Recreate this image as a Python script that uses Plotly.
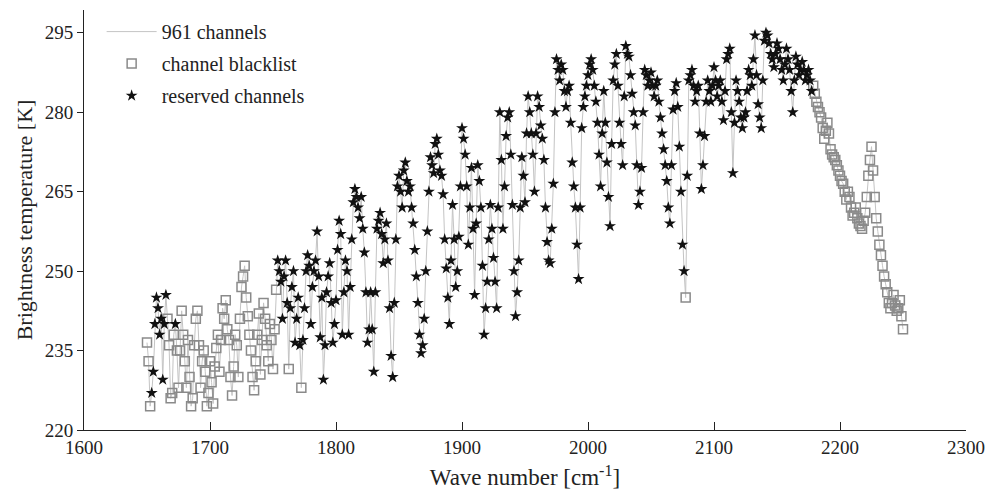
import plotly.graph_objects as go

# wave numbers of the sampled channels (cm^-1), 1.25 cm^-1 step from 1650 to 2250
wave = [1650 + 1.25 * i for i in range(481)]

# brightness temperature [K], blocks of 10 cm^-1 (8 values each)
tb = [
    236.5, 233, 224.5, 227, 231, 240, 245, 243,          # 1650
    238, 241, 229.5, 240, 245.5, 241, 236, 226,          # 1660
    227, 238, 240, 235, 228, 235, 242.5, 238,            # 1670
    233, 228, 237, 230, 224.5, 226, 236, 241,            # 1680
    242.5, 236, 228, 233, 235, 231, 224.5, 227,          # 1690
    233, 229, 225, 232, 235.5, 238, 231, 237,            # 1700
    243, 241, 244.5, 239, 237, 230, 226.5, 232,          # 1710
    238, 236, 230, 241, 247, 249, 251, 245,              # 1720
    241.5, 238, 235, 230, 227.5, 233, 238, 242,          # 1730
    230.5, 237, 244, 241, 236, 233, 240, 237,            # 1740
    231.5, 239, 246.5, 252, 250, 248, 241, 249,          # 1750
    252, 244, 231.5, 243, 247, 250, 236.5, 241,          # 1760
    245, 236, 228, 237, 243, 250, 253, 251,              # 1770
    240, 247, 250, 252, 257.5, 249, 237.5, 245,          # 1780
    229.5, 236, 246, 249, 251.5, 244, 236.5, 240,        # 1790
    244.5, 254, 259.5, 257, 238, 246, 252, 250,          # 1800
    238, 247, 256, 263, 265.5, 264, 262, 260,            # 1810
    264, 258, 253.5, 246, 236.5, 239, 246, 239,          # 1820
    231, 246, 258, 259.5, 261, 257, 251.5, 256,          # 1830
    259, 252, 243, 234, 230, 244, 256, 266,              # 1840
    268, 265, 262, 269, 270.5, 267, 265, 266,            # 1850
    262, 259, 254, 249, 244, 238, 234.5, 236,            # 1860
    241, 250, 257.5, 265, 271.5, 270, 268.5, 274,        # 1870
    275, 272, 269, 268, 264.5, 256, 250.5, 245,          # 1880
    240, 252, 262.5, 256, 247, 250, 256.5, 266,          # 1890
    277, 275, 272, 266, 255, 262, 269.5, 258,            # 1900
    245.5, 259, 270, 267, 262, 251, 238, 243,            # 1910
    248, 256, 262.5, 258, 252.5, 248, 243, 262,          # 1920
    280, 271, 258, 266, 275.5, 279, 280, 272,            # 1930
    262.5, 250, 241.5, 246, 252, 262, 271.5, 268,        # 1940
    263, 276, 283, 280, 276, 272, 265, 276,              # 1950
    283, 281, 277.5, 275, 271, 262, 255.5, 252,          # 1960
    251.5, 258, 266.5, 280, 290, 288, 286, 289,          # 1970
    288, 284, 281, 284, 285, 278, 270.5, 266,            # 1980
    262, 255, 248.5, 262, 277, 281, 283, 285,            # 1990
    287, 289, 290, 288, 285, 282, 278, 272,              # 2000
    266, 276, 284, 278, 270.5, 264, 258.5, 274,          # 2010
    286, 289, 291, 285, 278, 274, 270, 283,              # 2020
    292.5, 291, 290.5, 287, 283.5, 280, 277.5, 270,      # 2030
    262.5, 265, 269.5, 280, 288, 287, 285, 286,          # 2040
    287.5, 285, 283, 285, 286, 282, 279, 276,            # 2050
    273, 270, 267, 262, 259, 270, 280.5, 284,            # 2060
    285.5, 281, 273.5, 265, 255, 250, 245, 268,          # 2070
    286, 287, 288, 285, 282, 284, 285, 276,              # 2080
    265.5, 270, 275.5, 282, 286, 284, 282, 285,          # 2090
    288.5, 286, 283, 285, 286, 282, 278.5, 284,          # 2100
    290, 291, 292, 280, 268.5, 278, 286, 284,            # 2110
    282, 279, 277, 279, 280, 284, 288, 287,              # 2120
    285, 290, 294.5, 287, 281.5, 279, 277, 286,          # 2130
    293.5, 295, 294.5, 293, 291, 290, 288.5, 291,        # 2140
    293, 292, 290, 288, 286, 289, 292, 290,              # 2150
    288, 284, 280, 286, 290.5, 289, 287, 288,            # 2160
    289.5, 288, 286, 287, 288, 286, 284, 285,            # 2170
    283.5, 282, 281, 280, 279, 277, 275, 276.5,          # 2180
    278, 276, 273, 272, 271.5, 271, 270, 269,            # 2190
    268, 267, 266.5, 265, 263.5, 265, 264, 262,          # 2200
    260.5, 261, 262, 260, 259, 258.5, 258, 259.5,        # 2210
    261, 264, 268, 271, 273.5, 269, 264, 260,            # 2220
    257.5, 255, 253, 251, 249, 247.5, 246, 244,          # 2230
    243, 244, 245.5, 243.5, 242.5, 243, 244.5, 241.5,    # 2240
    239,                                                 # 2250
]

# blacklisted channel ranges (cm^-1), plus single channels
blacklist_ranges = [(1650, 1652.5), (1666.25, 1752.5), (2178.75, 2250)]
blacklist_single = [1762.5, 1772.5, 2077.5]
reserved_inside = [1672.5]


def is_black(w):
    if any(abs(w - s) < 1e-6 for s in reserved_inside):
        return False
    if any(abs(w - s) < 1e-6 for s in blacklist_single):
        return True
    return any(a - 1e-6 <= w <= b + 1e-6 for a, b in blacklist_ranges)


bx = [w for w, t in zip(wave, tb) if is_black(w)]
by = [t for w, t in zip(wave, tb) if is_black(w)]
rx = [w for w, t in zip(wave, tb) if not is_black(w)]
ry = [t for w, t in zip(wave, tb) if not is_black(w)]

font = "Liberation Serif"
fig = go.Figure()
fig.add_trace(go.Scatter(x=wave, y=tb, mode="lines", name="961 channels",
                         line=dict(color="#c4c4c4", width=1), legendgroup="a"))
fig.add_trace(go.Scatter(x=bx, y=by, mode="markers", name="channel blacklist",
                         marker=dict(symbol="square-open", size=9, color="#8a8a8a",
                                     line=dict(width=1.5, color="#8a8a8a")), legendgroup="b"))
fig.add_trace(go.Scatter(x=rx, y=ry, mode="markers", name="reserved channels",
                         marker=dict(symbol="star", size=9, color="#111111"), legendgroup="c"))

fig.update_layout(
    width=994, height=497,
    margin=dict(l=84, r=28, t=10, b=67),
    plot_bgcolor="white", paper_bgcolor="white",
    font=dict(family=font, size=19, color="#222"),
    legend=dict(x=0.02, y=0.995, xanchor="left", yanchor="top", bgcolor="rgba(0,0,0,0)",
                font=dict(size=20), tracegroupgap=3, itemwidth=50),
    showlegend=True,
)
fig.update_xaxes(range=[1600, 2300], tickvals=[1600, 1700, 1800, 1900, 2000, 2100, 2200, 2300],
                 ticks="inside", ticklen=8, tickcolor="#222", showline=True, linecolor="#222",
                 showgrid=False, zeroline=False,
                 title=dict(text="Wave number [cm<sup>-1</sup>]", font=dict(size=23), standoff=12))
fig.update_yaxes(range=[220, 299.3], tickvals=[220, 235, 250, 265, 280, 295],
                 ticks="outside", ticklen=6, tickcolor="#222", showline=True, linecolor="#222",
                 showgrid=False, zeroline=False,
                 title=dict(text="Brightness temperature [K]", font=dict(size=22), standoff=6))
fig.write_html("out.html")
